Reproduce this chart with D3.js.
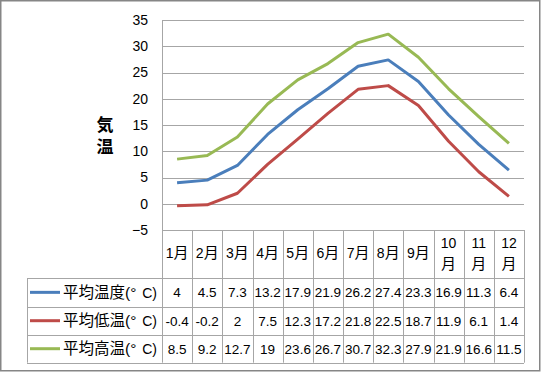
<!DOCTYPE html>
<html>
<head>
<meta charset="utf-8">
<script src="https://cdn.jsdelivr.net/npm/d3@7"></script>
<style>
  body { margin: 0; background: #fff; }
  svg text { font-family: "Liberation Sans", "Noto Sans CJK JP", sans-serif; fill: #000; }
</style>
</head>
<body>
<svg id="chart" width="541" height="372"></svg>
<script>
// data
const months = ["1月","2月","3月","4月","5月","6月","7月","8月","9月","10月","11月","12月"];
const avgTemp = [4, 4.5, 7.3, 13.2, 17.9, 21.9, 26.2, 27.4, 23.3, 16.9, 11.3, 6.4];
const lowTemp = [-0.4, -0.2, 2, 7.5, 12.3, 17.2, 21.8, 22.5, 18.7, 11.9, 6.1, 1.4];
const highTemp = [8.5, 9.2, 12.7, 19, 23.6, 26.7, 30.7, 32.3, 27.9, 21.9, 16.6, 11.5];
const seriesNames = ["平均温度", "平均低温", "平均高温"];
const yTicks = [-5, 0, 5, 10, 15, 20, 25, 30, 35];

const series = [
  {name: seriesNames[0], values: avgTemp, color: "#4a7ebb"},
  {name: seriesNames[1], values: lowTemp, color: "#be4b48"},
  {name: seriesNames[2], values: highTemp, color: "#98b954"}
];

const svg = d3.select("#chart");

// outer chart border
svg.append("rect")
    .attr("x", 0.75).attr("y", 0.75)
    .attr("width", 539).attr("height", 370)
    .attr("fill", "#fff")
    .attr("stroke", "#868686")
    .attr("stroke-width", 1.5);

const plotLeft = 162, plotRight = 524, plotTop = 20, plotBottom = 230;
const rowTops = [230, 278, 306.7, 334.7, 362.7];
const tableLeft = 27;

const x = d3.scaleBand().domain(months).range([plotLeft, plotRight]);
const y = d3.scaleLinear().domain([-5, 35]).range([plotBottom, plotTop]);

// gridlines
svg.append("g").selectAll("line")
  .data(yTicks)
  .join("line")
    .attr("x1", plotLeft).attr("x2", plotRight)
    .attr("y1", d => Math.round(y(d)) + 0.5).attr("y2", d => Math.round(y(d)) + 0.5)
    .attr("stroke", "#a6a6a6").attr("stroke-width", 1);

// y axis
const yAxis = svg.append("g")
    .attr("transform", "translate(" + plotLeft + ",0)")
    .call(d3.axisLeft(y).tickValues(yTicks).tickSize(0).tickPadding(14));
yAxis.select(".domain").remove();
yAxis.selectAll("text")
    .style("font-size", "14px")
    .style("font-family", "Liberation Sans, sans-serif")
    .attr("fill", "#000");

// y axis title, stacked vertically
svg.append("text")
    .attr("x", 105).attr("y", 131)
    .attr("text-anchor", "middle")
    .style("font-size", "17px").style("font-weight", 700)
    .text("気");
svg.append("text")
    .attr("x", 105).attr("y", 153)
    .attr("text-anchor", "middle")
    .style("font-size", "17px").style("font-weight", 700)
    .text("温");

// lines
const line = d3.line()
    .x((d, i) => x(months[i]) + x.bandwidth() / 2)
    .y(d => y(d));

svg.append("g").selectAll("path")
  .data(series)
  .join("path")
    .attr("fill", "none")
    .attr("stroke", d => d.color)
    .attr("stroke-width", 3)
    .attr("stroke-linejoin", "round")
    .attr("d", d => line(d.values));

// data table
const grid = svg.append("g").attr("stroke", "#a6a6a6").attr("stroke-width", 1);
// horizontal lines
grid.append("line").attr("x1", plotLeft).attr("x2", plotRight)
    .attr("y1", rowTops[0] + 0.5).attr("y2", rowTops[0] + 0.5);
rowTops.slice(1).forEach(t => {
  grid.append("line").attr("x1", tableLeft).attr("x2", plotRight)
      .attr("y1", Math.round(t) + 0.5).attr("y2", Math.round(t) + 0.5);
});
// vertical lines
grid.append("line").attr("x1", tableLeft + 0.5).attr("x2", tableLeft + 0.5)
    .attr("y1", rowTops[1]).attr("y2", rowTops[4]);
grid.append("line").attr("x1", plotLeft + 0.5).attr("x2", plotLeft + 0.5)
    .attr("y1", plotTop).attr("y2", rowTops[4]);
months.forEach(m => {
  const xx = Math.round(x(m) + x.bandwidth()) + 0.5;
  grid.append("line").attr("x1", xx).attr("x2", xx)
      .attr("y1", rowTops[0]).attr("y2", rowTops[4]);
});

// month header: digits a bit smaller than the CJK glyph
const header = svg.append("g");
months.forEach(m => {
  const cx = x(m) + x.bandwidth() / 2;
  const num = m.slice(0, -1);
  if (num.length > 1) {
    header.append("text").attr("x", cx).attr("y", 248).attr("text-anchor", "middle")
        .style("font-size", "14px").text(num);
    header.append("text").attr("x", cx).attr("y", 269).attr("text-anchor", "middle")
        .style("font-size", "15px").text("月");
  } else {
    const t = header.append("text").attr("x", cx).attr("y", 258).attr("text-anchor", "middle");
    t.append("tspan").style("font-size", "14px").text(num);
    t.append("tspan").style("font-size", "15px").text("月");
  }
});

// series rows
series.forEach((s, r) => {
  const cy = (rowTops[r + 1] + rowTops[r + 2]) / 2;
  svg.append("line")
      .attr("x1", 30).attr("x2", 60)
      .attr("y1", cy).attr("y2", cy)
      .attr("stroke", s.color).attr("stroke-width", 3);
  svg.append("text")
      .attr("x", 63).attr("y", cy + 5.5)
      .style("font-size", "15.5px")
      .text(s.name + "(°");
  svg.append("text")
      .attr("x", 157).attr("y", cy + 5.5)
      .attr("text-anchor", "end")
      .style("font-size", "14px")
      .text("C)");
  svg.append("g").selectAll("text")
    .data(s.values)
    .join("text")
      .attr("x", (d, i) => x(months[i]) + x.bandwidth() / 2)
      .attr("y", cy + 5)
      .attr("text-anchor", "middle")
      .style("font-size", "13.5px")
      .text(d => d);
});
</script>
</body>
</html>
